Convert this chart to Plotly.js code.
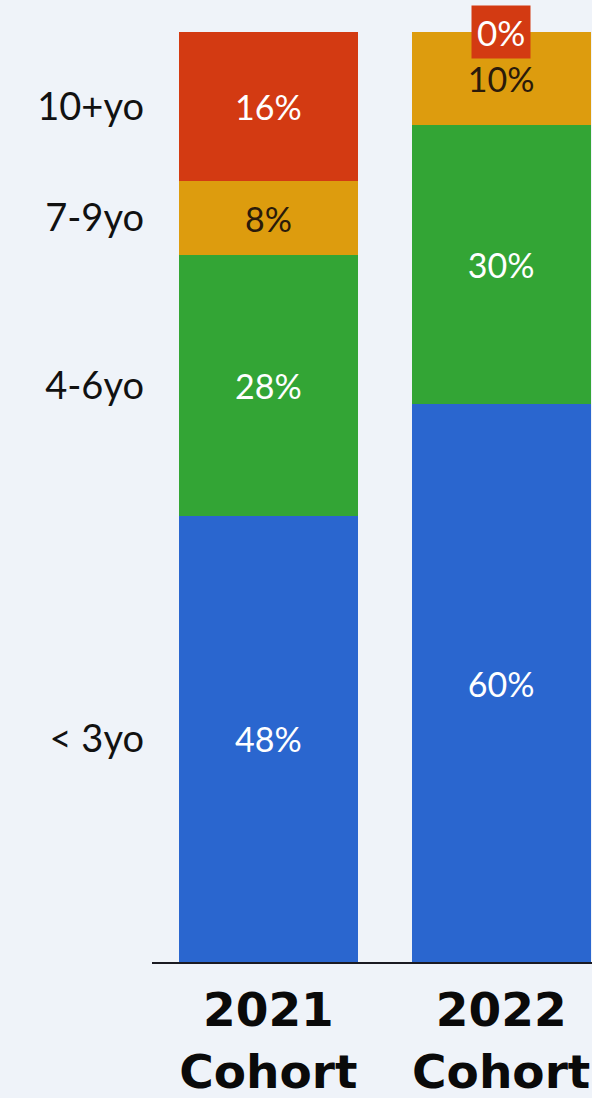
<!DOCTYPE html>
<html>
<head>
<meta charset="utf-8">
<script src="https://cdn.plot.ly/plotly-3.0.1.min.js"></script>
<style>
html,body{margin:0;padding:0;background:#eff3f9;}
#chart{width:592px;height:1098px;}
</style>
</head>
<body>
<div id="chart"></div>
<script>
// Data
var cohorts = ['2021 Cohort', '2022 Cohort'];
var cohortLabels = ['2021<br>Cohort', '2022<br>Cohort'];
var groups = ['< 3yo', '4-6yo', '7-9yo', '10+yo'];
var under3 = [48, 60];
var age4to6 = [28, 30];
var age7to9 = [8, 10];
var age10plus = [16, 0];

var seriesValues = [under3, age4to6, age7to9, age10plus];
var colors = ['#2a66cf', '#33a535', '#dd9c0e', '#d33a12'];
var textColors = ['#ffffff', '#ffffff', '#2a1a0a', '#ffffff'];

var FONT = 'Lato, "Noto Sans", sans-serif';

var traces = seriesValues.map(function (vals, i) {
  return {
    type: 'bar',
    name: groups[i],
    x: cohorts,
    y: vals,
    marker: {color: colors[i], line: {width: 0}},
    text: vals.map(function (v) { return v > 0 ? v + '%' : ''; }),
    texttemplate: '%{text}',
    textposition: 'inside',
    insidetextanchor: 'middle',
    textangle: 0,
    constraintext: 'none',
    textfont: {family: FONT, size: 34, color: textColors[i]},
    hoverinfo: 'skip'
  };
});

// y tick positions: midpoints of the 2021 cohort segments
var tickvals = [];
var cum = 0;
seriesValues.forEach(function (vals) {
  tickvals.push(cum + vals[0] / 2);
  cum += vals[0];
});

// annotations for zero-value segments
var annotations = [];
cohorts.forEach(function (c, j) {
  var base = 0;
  seriesValues.forEach(function (vals, i) {
    if (vals[j] === 0) {
      annotations.push({
        x: c, y: base, xref: 'x', yref: 'y',
        text: vals[j] + '%', showarrow: false,
        xanchor: 'center', yanchor: 'middle',
        bgcolor: colors[i], borderpad: 5,
        font: {family: FONT, size: 35, color: '#ffffff'}
      });
    }
    base += vals[j];
  });
});

var layout = {
  width: 592, height: 1098,
  margin: {l: 152, r: 0, t: 32, b: 136, pad: 0},
  paper_bgcolor: '#eff3f9',
  plot_bgcolor: '#eff3f9',
  barmode: 'stack',
  bargap: 0.232,
  showlegend: false,
  xaxis: {
    type: 'category',
    range: [-0.5, 1.39],
    tickvals: cohorts,
    ticktext: cohortLabels,
    tickfont: {family: '"DejaVu Sans", sans-serif', size: 47, color: '#0a0a0a', weight: 'bold'},
    showline: true, linecolor: '#1a1a22', linewidth: 2,
    showgrid: false, zeroline: false, ticks: '',
    ticklabelstandoff: 6,
    fixedrange: true
  },
  yaxis: {
    range: [0, 100],
    tickvals: tickvals,
    ticktext: groups,
    tickfont: {family: FONT, size: 38, color: '#111111'},
    showline: false, showgrid: false, zeroline: false, ticks: '',
    ticklabelstandoff: 7,
    fixedrange: true
  },
  annotations: annotations
};

Plotly.newPlot('chart', traces, layout, {displayModeBar: false, staticPlot: true});
</script>
</body>
</html>
